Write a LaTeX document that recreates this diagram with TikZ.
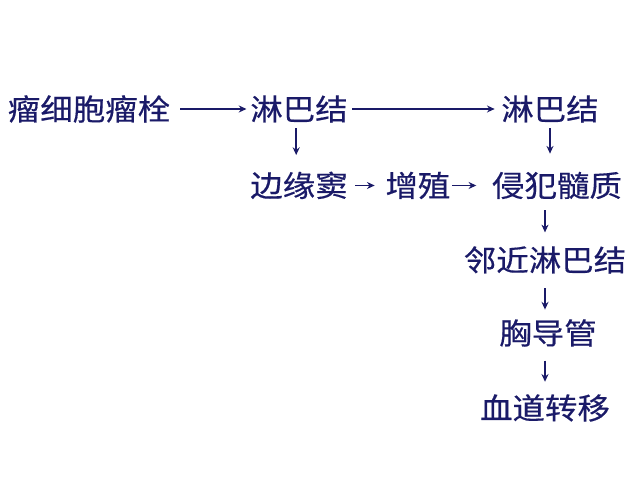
\documentclass[tikz,border=0pt]{standalone}
\usepackage{fontspec}
\usepackage{xcolor}
\usepackage{tikz}
\usetikzlibrary{positioning,arrows.meta}
\newfontfamily\cjk[FakeStretch=1.1,FakeBold=0.4]{Noto Sans CJK SC}
\definecolor{inkblue}{RGB}{26,26,104}
\tikzset{
  term/.style = {inner sep=0pt, text=inkblue, font=\cjk\fontsize{21}{25}\selectfont,
                 text height=17.4pt, text depth=1.5pt},
  flow/.style = {-{Stealth[length=5.5pt,width=5pt]}, line width=1pt, draw=inkblue},
}
\begin{document}
\begin{tikzpicture}[x=0.025cm,y=-0.025cm]
  \useasboundingbox (0,0) rectangle (640,477);
  % top row
  \node[term] (embolus) at (89,109) {瘤细胞瘤栓};
  \node[term] (node1) at (299,109) {淋巴结};
  \node[term] (node2) at (550,109) {淋巴结};
  % second row
  \node[term] (sinus) at (299,185.5) {边缘窦};
  \node[term] (prolif) at (418,185.5) {增殖};
  \node[term] (medulla) at (557,185.5) {侵犯髓质};
  % down the right side
  \node[term] (nearby) at (545,260) {邻近淋巴结};
  \node[term] (duct) at (548,333) {胸导管};
  \node[term] (blood) at (545,408) {血道转移};

  \draw[flow, shorten <=7pt, shorten >=2.5pt] (embolus) -- (node1);
  \draw[flow, shorten <=3pt, shorten >=4.5pt] (node1) -- (node2);
  \draw[flow, shorten <=5pt, shorten >=7.5pt] (sinus) -- (prolif);
  \draw[flow, shorten <=1pt, shorten >=11pt] (prolif) -- (medulla);
  \draw[flow, shorten <=4pt, shorten >=12pt] ([xshift=-2]node1.south) -- ([xshift=-2]node1.south |- sinus.north);
  \draw[flow, shorten <=4pt, shorten >=13pt] (node2.south) -- (node2.south |- medulla.north);
  \draw[flow, shorten <=8pt, shorten >=10pt] (nearby.north |- medulla.south) -- (nearby.north);
  \draw[flow, shorten <=10.5pt, shorten >=7pt] (nearby.south) -- (nearby.south |- duct.north);
  \draw[flow, shorten <=10pt, shorten >=9pt] (blood.north |- duct.south) -- (blood.north);
\end{tikzpicture}
\end{document}
